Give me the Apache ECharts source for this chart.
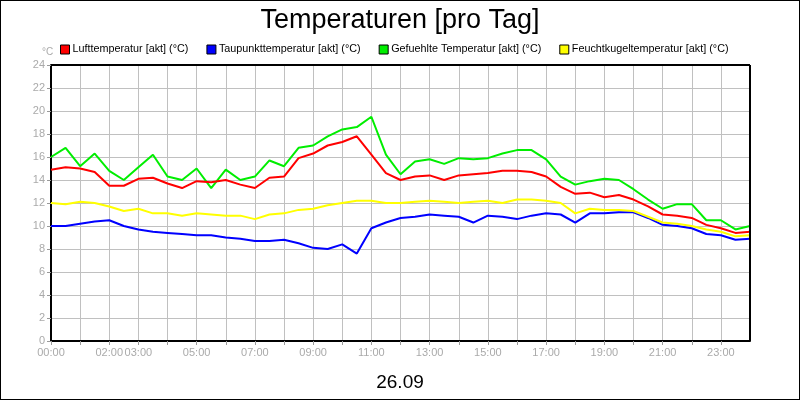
<!DOCTYPE html>
<html><head><meta charset="utf-8">
<script src="https://cdn.jsdelivr.net/npm/echarts@6/dist/echarts.min.js"></script>
<style>html,body{margin:0;padding:0;background:#fff}#c{width:798px;height:398px;border:1px solid #000}</style>
</head><body><div id="c"></div>
<script>
const times = [0,0.5,1,1.5,2,2.5,3,3.5,4,4.5,5,5.5,6,6.5,7,7.5,8,8.5,9,9.5,10,10.5,11,11.5,12,12.5,13,13.5,14,14.5,15,15.5,16,16.5,17,17.5,18,18.5,19,19.5,20,20.5,21,21.5,22,22.5,23,23.5,24];
const luft = [14.9,15.1,15.0,14.7,13.5,13.5,14.1,14.2,13.7,13.3,13.9,13.8,14.0,13.6,13.3,14.2,14.3,15.9,16.3,17.0,17.3,17.8,16.2,14.6,14.0,14.3,14.4,14.0,14.4,14.5,14.6,14.8,14.8,14.7,14.3,13.4,12.8,12.9,12.5,12.7,12.3,11.7,11.0,10.9,10.7,10.1,9.8,9.4,9.5];
const taupunkt = [10.0,10.0,10.2,10.4,10.5,10.0,9.7,9.5,9.4,9.3,9.2,9.2,9.0,8.9,8.7,8.7,8.8,8.5,8.1,8.0,8.4,7.6,9.8,10.3,10.7,10.8,11.0,10.9,10.8,10.3,10.9,10.8,10.6,10.9,11.1,11.0,10.3,11.1,11.1,11.2,11.2,10.7,10.1,10.0,9.8,9.3,9.2,8.8,8.9];
const gefuehlt = [16.0,16.8,15.2,16.3,14.8,14.0,15.1,16.2,14.3,14.0,15.0,13.3,14.9,14.0,14.3,15.7,15.2,16.8,17.0,17.8,18.4,18.6,19.5,16.2,14.5,15.6,15.8,15.4,15.9,15.8,15.9,16.3,16.6,16.6,15.8,14.3,13.6,13.9,14.1,14.0,13.2,12.3,11.5,11.9,11.9,10.5,10.5,9.7,10.0];
const feucht = [12.0,11.9,12.1,12.0,11.7,11.3,11.5,11.1,11.1,10.9,11.1,11.0,10.9,10.9,10.6,11.0,11.1,11.4,11.5,11.8,12.0,12.2,12.2,12.0,12.0,12.1,12.2,12.1,12.0,12.1,12.2,12.0,12.3,12.3,12.2,12.0,11.1,11.5,11.4,11.4,11.3,10.8,10.3,10.2,10.0,9.7,9.5,9.1,9.2];
const xLabels = ['00:00','02:00','03:00','05:00','07:00','09:00','11:00','13:00','15:00','17:00','19:00','21:00','23:00'];
const names = ['Lufttemperatur [akt] (°C)','Taupunkttemperatur [akt] (°C)','Gefuehlte Temperatur [akt] (°C)','Feuchtkugeltemperatur [akt] (°C)'];
const colors = ['#ff0000','#0000ff','#00ee00','#ffff00'];
const vals = [luft,taupunkt,gefuehlt,feucht];
const pad = n => (n<10?'0':'')+n;
const chart = echarts.init(document.getElementById('c'));
chart.setOption({
  animation:false,
  textStyle:{fontFamily:'Liberation Sans, Arial, sans-serif'},
  title:[{text:'Temperaturen [pro Tag]',left:'center',top:1,textStyle:{fontSize:27,fontWeight:'normal',color:'#000'}},
         {text:'26.09',left:'center',top:367,textStyle:{fontSize:19,fontWeight:'normal',color:'#000'}},
         {text:'°C',left:36,top:41,textStyle:{fontSize:10,fontWeight:'normal',color:'#aaa'}}],
  legend:{top:38,left:54,itemGap:18,itemWidth:9,itemHeight:9,icon:'rect',textStyle:{fontSize:10.8,color:'#000',padding:[0,0,0,-2]},
    data:names.map((n,i)=>({name:n,itemStyle:{color:colors[i],borderColor:'#000',borderWidth:1}}))},
  grid:{left:50,right:49,top:64,bottom:58},
  xAxis:{type:'value',min:0,max:24,interval:1,
    axisLine:{lineStyle:{color:'#000',width:2}},
    axisTick:{show:true,length:4,lineStyle:{color:'#999'}},
    axisLabel:{color:'#aaa',fontSize:11,margin:6,showMaxLabel:false,formatter:v=>{const s=pad(v)+':00';return xLabels.includes(s)?s:'';}},
    splitLine:{show:true,lineStyle:{color:'#c0c0c0'}}},
  yAxis:{type:'value',min:0,max:24,interval:2,
    axisLine:{show:true,lineStyle:{color:'#000',width:2}},
    axisTick:{show:true,length:4,lineStyle:{color:'#999'}},
    axisLabel:{color:'#aaa',fontSize:11,margin:6},
    splitLine:{show:true,lineStyle:{color:'#c0c0c0'}}},
  series:names.map((n,i)=>({name:n,type:'line',symbol:'none',color:colors[i],lineStyle:{width:2,color:colors[i]},z:[3,2,1,4][i],
    data:times.map((t,j)=>[t,vals[i][j]])})).concat([{type:'line',silent:true,symbol:'none',data:[],markLine:{silent:true,symbol:'none',label:{show:false},lineStyle:{color:'#000',width:2,type:'solid'},data:[[{coord:[0,24]},{coord:[24,24]}],[{coord:[24,0]},{coord:[24,24]}]]}}])
});
</script></body></html>
